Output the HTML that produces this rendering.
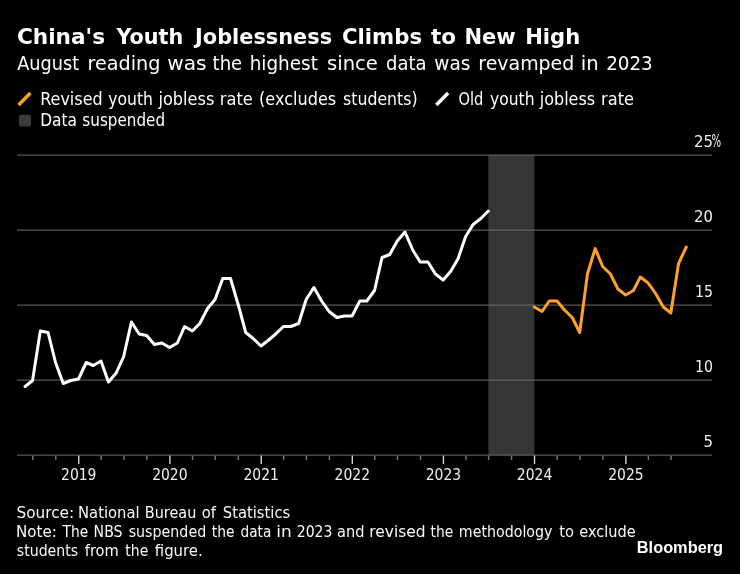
<!DOCTYPE html>
<html lang="en"><head><meta charset="utf-8"><title>China's Youth Joblessness Climbs to New High</title>
<style>html,body{margin:0;padding:0;background:#000}body{width:740px;height:574px;overflow:hidden}</style></head>
<body>
<svg width="740" height="574" viewBox="0 0 740 574" style="display:block;font-family:'DejaVu Sans','Liberation Sans',sans-serif">
<rect width="740" height="574" fill="#000"/>
<rect x="488.36" y="155" width="45.93" height="300" fill="#353535"/>
<rect x="17" y="154.6" width="695" height="1" fill="#6e6e6e"/>
<rect x="17" y="229.6" width="695" height="1" fill="#6e6e6e"/>
<rect x="17" y="304.6" width="695" height="1" fill="#6e6e6e"/>
<rect x="17" y="379.6" width="695" height="1" fill="#6e6e6e"/>
<rect x="17" y="454.6" width="695" height="1" fill="#6e6e6e"/>
<rect x="32.12" y="455.6" width="1.4" height="4.4" fill="#777"/>
<rect x="55.09" y="455.6" width="1.4" height="4.4" fill="#777"/>
<rect x="78.05" y="455.6" width="1.4" height="8.3" fill="#d6d6d6"/>
<text x="78.75" y="480" font-size="16" fill="#f0f0f0" text-anchor="middle" textLength="35.4" lengthAdjust="spacingAndGlyphs">2019</text>
<rect x="100.51" y="455.6" width="1.4" height="4.4" fill="#777"/>
<rect x="123.23" y="455.6" width="1.4" height="4.4" fill="#777"/>
<rect x="146.19" y="455.6" width="1.4" height="4.4" fill="#777"/>
<rect x="169.16" y="455.6" width="1.4" height="8.3" fill="#d6d6d6"/>
<text x="169.86" y="480" font-size="16" fill="#f0f0f0" text-anchor="middle" textLength="35.4" lengthAdjust="spacingAndGlyphs">2020</text>
<rect x="191.87" y="455.6" width="1.4" height="4.4" fill="#777"/>
<rect x="214.59" y="455.6" width="1.4" height="4.4" fill="#777"/>
<rect x="237.55" y="455.6" width="1.4" height="4.4" fill="#777"/>
<rect x="260.51" y="455.6" width="1.4" height="8.3" fill="#d6d6d6"/>
<text x="261.21" y="480" font-size="16" fill="#f0f0f0" text-anchor="middle" textLength="35.4" lengthAdjust="spacingAndGlyphs">2021</text>
<rect x="282.98" y="455.6" width="1.4" height="4.4" fill="#777"/>
<rect x="305.69" y="455.6" width="1.4" height="4.4" fill="#777"/>
<rect x="328.66" y="455.6" width="1.4" height="4.4" fill="#777"/>
<rect x="351.62" y="455.6" width="1.4" height="8.3" fill="#d6d6d6"/>
<text x="352.32" y="480" font-size="16" fill="#f0f0f0" text-anchor="middle" textLength="35.4" lengthAdjust="spacingAndGlyphs">2022</text>
<rect x="374.09" y="455.6" width="1.4" height="4.4" fill="#777"/>
<rect x="396.80" y="455.6" width="1.4" height="4.4" fill="#777"/>
<rect x="419.77" y="455.6" width="1.4" height="4.4" fill="#777"/>
<rect x="442.73" y="455.6" width="1.4" height="8.3" fill="#d6d6d6"/>
<text x="443.43" y="480" font-size="16" fill="#f0f0f0" text-anchor="middle" textLength="35.4" lengthAdjust="spacingAndGlyphs">2023</text>
<rect x="465.19" y="455.6" width="1.4" height="4.4" fill="#777"/>
<rect x="487.91" y="455.6" width="1.4" height="4.4" fill="#777"/>
<rect x="510.87" y="455.6" width="1.4" height="4.4" fill="#777"/>
<rect x="533.84" y="455.6" width="1.4" height="8.3" fill="#d6d6d6"/>
<text x="534.54" y="480" font-size="16" fill="#f0f0f0" text-anchor="middle" textLength="35.4" lengthAdjust="spacingAndGlyphs">2024</text>
<rect x="556.55" y="455.6" width="1.4" height="4.4" fill="#777"/>
<rect x="579.27" y="455.6" width="1.4" height="4.4" fill="#777"/>
<rect x="602.23" y="455.6" width="1.4" height="4.4" fill="#777"/>
<rect x="625.19" y="455.6" width="1.4" height="8.3" fill="#d6d6d6"/>
<text x="625.89" y="480" font-size="16" fill="#f0f0f0" text-anchor="middle" textLength="35.4" lengthAdjust="spacingAndGlyphs">2025</text>
<rect x="647.66" y="455.6" width="1.4" height="4.4" fill="#777"/>
<rect x="670.37" y="455.6" width="1.4" height="4.4" fill="#777"/>
<text x="712.93" y="147.0" font-size="15.5" fill="#f0f0f0" text-anchor="end" textLength="19.0" lengthAdjust="spacingAndGlyphs">25</text>
<text x="711.53" y="147.0" font-size="17.3" fill="#f0f0f0" textLength="9.6" lengthAdjust="spacingAndGlyphs">%</text>
<text x="712.93" y="222.0" font-size="15.5" fill="#f0f0f0" text-anchor="end" textLength="19.0" lengthAdjust="spacingAndGlyphs">20</text>
<text x="712.93" y="297.0" font-size="15.5" fill="#f0f0f0" text-anchor="end" textLength="18.0" lengthAdjust="spacingAndGlyphs">15</text>
<text x="712.93" y="372.0" font-size="15.5" fill="#f0f0f0" text-anchor="end" textLength="18.0" lengthAdjust="spacingAndGlyphs">10</text>
<text x="712.93" y="447.0" font-size="15.5" fill="#f0f0f0" text-anchor="end" textLength="9.5" lengthAdjust="spacingAndGlyphs">5</text>
<path d="M25.08,386.50 L32.57,380.50 L40.31,331.00 L48.05,332.50 L55.54,362.50 L63.27,383.50 L70.76,380.50 L78.50,379.00 L86.24,362.50 L93.23,365.50 L100.97,361.00 L108.45,382.00 L116.19,373.00 L123.68,356.50 L131.42,322.00 L139.16,334.00 L146.64,335.50 L154.38,344.50 L161.87,343.00 L169.61,347.50 L177.35,343.00 L184.58,326.50 L192.32,331.00 L199.81,323.50 L207.55,308.50 L215.04,299.50 L222.77,278.50 L230.51,278.50 L238.00,304.00 L245.74,332.50 L253.23,338.50 L260.97,346.00 L268.70,340.00 L275.69,334.00 L283.43,326.50 L290.92,326.50 L298.66,323.50 L306.14,299.50 L313.88,287.50 L321.62,301.00 L329.11,311.50 L336.85,317.50 L344.33,316.00 L352.07,316.00 L359.81,301.00 L366.80,301.00 L374.54,290.50 L382.03,257.50 L389.76,254.50 L397.25,241.00 L404.99,232.00 L412.73,250.00 L420.22,262.00 L427.95,262.00 L435.44,274.00 L443.18,280.00 L450.92,271.00 L457.91,259.00 L465.65,236.50 L473.13,224.50 L480.87,218.50 L488.36,211.00" fill="none" stroke="#fff" stroke-width="3" stroke-linejoin="round" stroke-linecap="round"/>
<path d="M534.29,307.00 L542.03,311.50 L549.26,301.00 L557.00,301.00 L564.49,310.00 L572.23,317.50 L579.72,332.50 L587.45,274.00 L595.19,248.50 L602.68,266.50 L610.42,274.00 L617.91,289.00 L625.65,295.00 L633.38,290.50 L640.37,277.00 L648.11,283.00 L655.60,293.50 L663.34,307.00 L670.82,313.00 L678.56,263.50 L686.30,247.00" fill="none" stroke="#ffa028" stroke-width="3" stroke-linejoin="round" stroke-linecap="round"/>
<text y="44.2" font-size="20.5" fill="#fff" font-weight="bold"><tspan x="16.94" textLength="88.18" lengthAdjust="spacingAndGlyphs">China's</tspan> <tspan x="116.5" textLength="66.81" lengthAdjust="spacingAndGlyphs">Youth</tspan> <tspan x="195.02" textLength="137.12" lengthAdjust="spacingAndGlyphs">Joblessness</tspan> <tspan x="341.96" textLength="80.16" lengthAdjust="spacingAndGlyphs">Climbs</tspan> <tspan x="430.99" textLength="24.94" lengthAdjust="spacingAndGlyphs">to</tspan> <tspan x="464.45" textLength="51.32" lengthAdjust="spacingAndGlyphs">New</tspan> <tspan x="525.2" textLength="55.05" lengthAdjust="spacingAndGlyphs">High</tspan></text>
<text y="69.9" font-size="20.0" fill="#fff"><tspan x="17.28" textLength="61.91" lengthAdjust="spacingAndGlyphs">August</tspan> <tspan x="87.57" textLength="72.83" lengthAdjust="spacingAndGlyphs">reading</tspan> <tspan x="167.24" textLength="39.31" lengthAdjust="spacingAndGlyphs">was</tspan> <tspan x="212.55" textLength="29.68" lengthAdjust="spacingAndGlyphs">the</tspan> <tspan x="249.64" textLength="68.25" lengthAdjust="spacingAndGlyphs">highest</tspan> <tspan x="327.02" textLength="50.91" lengthAdjust="spacingAndGlyphs">since</tspan> <tspan x="386.1" textLength="40.53" lengthAdjust="spacingAndGlyphs">data</tspan> <tspan x="434.31" textLength="36.16" lengthAdjust="spacingAndGlyphs">was</tspan> <tspan x="478.34" textLength="95.92" lengthAdjust="spacingAndGlyphs">revamped</tspan> <tspan x="580.78" textLength="17.93" lengthAdjust="spacingAndGlyphs">in</tspan> <tspan x="606.13" textLength="46.64" lengthAdjust="spacingAndGlyphs">2023</tspan></text>
<path d="M18.6,104.9 L30.4,93.1" stroke="#ffa028" stroke-width="3.5" fill="none"/>
<text y="104.9" font-size="16.9" fill="#fff"><tspan x="40.18" textLength="62.48" lengthAdjust="spacingAndGlyphs">Revised</tspan> <tspan x="108.29" textLength="44.73" lengthAdjust="spacingAndGlyphs">youth</tspan> <tspan x="158.49" textLength="55.92" lengthAdjust="spacingAndGlyphs">jobless</tspan> <tspan x="219.81" textLength="32.97" lengthAdjust="spacingAndGlyphs">rate</tspan> <tspan x="259.07" textLength="77.13" lengthAdjust="spacingAndGlyphs">(excludes</tspan> <tspan x="343.05" textLength="74.57" lengthAdjust="spacingAndGlyphs">students)</tspan></text>
<path d="M436.3,104.9 L448.1,93.1" stroke="#fff" stroke-width="3.5" fill="none"/>
<text y="104.9" font-size="16.9" fill="#fff"><tspan x="458.38" textLength="24.89" lengthAdjust="spacingAndGlyphs">Old</tspan> <tspan x="490.04" textLength="44.47" lengthAdjust="spacingAndGlyphs">youth</tspan> <tspan x="539.74" textLength="55.41" lengthAdjust="spacingAndGlyphs">jobless</tspan> <tspan x="601.06" textLength="32.97" lengthAdjust="spacingAndGlyphs">rate</tspan></text>
<rect x="19" y="114.8" width="12" height="11.6" rx="2.2" fill="#3b3b3b"/>
<text y="126" font-size="16.9" fill="#fff"><tspan x="40.23" textLength="36.72" lengthAdjust="spacingAndGlyphs">Data</tspan> <tspan x="82.33" textLength="82.75" lengthAdjust="spacingAndGlyphs">suspended</tspan></text>
<text y="517.6" font-size="15.3" fill="#fafafa"><tspan x="16.5" textLength="57.7" lengthAdjust="spacingAndGlyphs">Source:</tspan> <tspan x="78.05" textLength="61.49" lengthAdjust="spacingAndGlyphs">National</tspan> <tspan x="144.84" textLength="51.46" lengthAdjust="spacingAndGlyphs">Bureau</tspan> <tspan x="201.78" textLength="14.23" lengthAdjust="spacingAndGlyphs">of</tspan> <tspan x="222.79" textLength="67.48" lengthAdjust="spacingAndGlyphs">Statistics</tspan></text>
<text y="536.8" font-size="15.3" fill="#fafafa"><tspan x="16.02" textLength="40.83" lengthAdjust="spacingAndGlyphs">Note:</tspan> <tspan x="62.5" textLength="25.63" lengthAdjust="spacingAndGlyphs">The</tspan> <tspan x="93.62" textLength="28.96" lengthAdjust="spacingAndGlyphs">NBS</tspan> <tspan x="128.7" textLength="77.5" lengthAdjust="spacingAndGlyphs">suspended</tspan> <tspan x="211.77" textLength="22.76" lengthAdjust="spacingAndGlyphs">the</tspan> <tspan x="240.58" textLength="30.73" lengthAdjust="spacingAndGlyphs">data</tspan> <tspan x="276.33" textLength="15.5" lengthAdjust="spacingAndGlyphs">in</tspan> <tspan x="296.79" textLength="35.55" lengthAdjust="spacingAndGlyphs">2023</tspan> <tspan x="337.05" textLength="27.42" lengthAdjust="spacingAndGlyphs">and</tspan> <tspan x="369.24" textLength="56.29" lengthAdjust="spacingAndGlyphs">revised</tspan> <tspan x="430.52" textLength="22.76" lengthAdjust="spacingAndGlyphs">the</tspan> <tspan x="458.84" textLength="93.68" lengthAdjust="spacingAndGlyphs">methodology</tspan> <tspan x="559.26" textLength="14.82" lengthAdjust="spacingAndGlyphs">to</tspan> <tspan x="579.29" textLength="56.44" lengthAdjust="spacingAndGlyphs">exclude</tspan></text>
<text y="555.8" font-size="15.3" fill="#fafafa"><tspan x="16.81" textLength="61.34" lengthAdjust="spacingAndGlyphs">students</tspan> <tspan x="84.76" textLength="34.04" lengthAdjust="spacingAndGlyphs">from</tspan> <tspan x="125.37" textLength="22.91" lengthAdjust="spacingAndGlyphs">the</tspan> <tspan x="154.76" textLength="48.04" lengthAdjust="spacingAndGlyphs">figure.</tspan></text>
<text x="636.8" y="553.4" font-size="16" font-weight="bold" fill="#fff" font-family="'Liberation Sans',sans-serif" textLength="86.3" lengthAdjust="spacingAndGlyphs">Bloomberg</text>
</svg>
</body></html>
